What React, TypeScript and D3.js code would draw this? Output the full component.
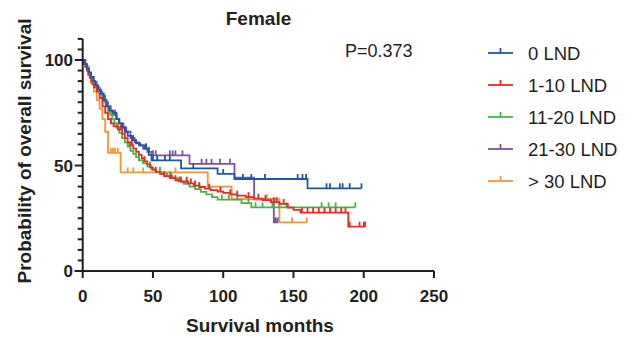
import * as d3 from 'd3';

// Kaplan-Meier step points [months, survival %]
const blueSteps: [number, number][] = [
  [0, 100], [1.5, 98], [3, 96], [4.5, 94], [6, 92], [7.5, 90], [9, 88], [11, 86], [13, 84], [15, 81],
  [17, 78], [19, 76], [21, 75], [24, 72], [26, 70], [28, 68], [30, 66], [32, 64], [35, 62], [38, 60.5],
  [41, 59.5], [44, 58], [47, 55], [49, 52.4], [70, 48.6], [96, 46], [108, 43.6], [160, 39.2],
];
const redSteps: [number, number][] = [
  [0, 100], [1, 98], [2, 96.5], [3, 95], [4, 93], [5, 91.5], [6, 90], [7, 88.5], [8, 87], [10, 85],
  [12, 82], [14, 78], [16, 75], [18, 72], [20, 70], [22, 68.5], [25, 67], [28, 65], [30, 63], [32, 61],
  [34, 59.5], [36, 58], [38, 56.5], [40, 55], [42, 53.5], [44, 52], [46, 50.5], [48, 49], [50, 48], [52, 47],
  [55, 46], [58, 45], [62, 44], [66, 43], [70, 42.3], [75, 41.5], [79, 40.5], [83, 39.8], [87, 39], [91, 38.3],
  [96, 37.6], [100, 37], [105, 36.3], [110, 35.7], [116, 35], [122, 34.3], [128, 33.6], [134, 32.6], [140, 31.8],
  [146, 30], [150, 29], [155, 27.7], [189, 21],
];
const greenSteps: [number, number][] = [
  [0, 100], [1.5, 98], [3, 96], [4.5, 94], [6, 92], [7.5, 90], [9, 88], [10.5, 86.5], [12, 85], [13.5, 83],
  [15, 80.5], [16.5, 78], [18, 76], [19.5, 74], [21, 72], [22.5, 70], [24, 68], [26, 65.5], [28, 63], [30, 61],
  [32, 59], [34, 57], [36, 55.5], [38, 54], [40, 52.5], [43, 51], [46, 49.5], [49, 48], [52, 47], [56, 46],
  [60, 45], [64, 44], [68, 42.5], [72, 41.3], [76, 40], [80, 38.8], [84, 37.5], [88, 36.3], [92, 35], [96, 33.8],
  [113, 32.2], [120, 30.2],
];
const purpleSteps: [number, number][] = [
  [0, 100], [2, 97], [4, 94], [6, 92], [8, 89.5], [10, 87], [12, 85], [14, 83], [16, 80], [18, 78],
  [20, 76], [22, 74], [24, 72], [26, 70], [28, 68], [31, 66], [34, 63], [37, 61], [40, 59.5], [43, 58],
  [46, 56.5], [49, 54.8], [76, 50.8], [108, 44.3], [122, 34], [136, 23],
];
const orangeSteps: [number, number][] = [
  [0, 100], [2, 97], [4, 93], [6, 89], [8, 85], [10, 81], [12, 77], [14, 72], [16, 66], [18, 56],
  [27, 46.7], [89, 40], [106, 34], [140, 23],
];

// censored observations (months)
const blueCensor = [24, 30, 36, 45, 50, 53, 58.5, 62, 78.7, 100, 114, 120, 129.7, 153, 156.4, 159, 173.5, 176, 183, 185, 190, 198.4];
const redCensor = [20, 27, 35, 44, 52, 58, 63, 66, 70, 74, 77, 80, 83, 90, 98, 105, 110, 118, 125, 130, 136, 138, 143, 156, 160, 164, 168, 172, 176, 180, 184, 187, 190, 197, 200, 201];
const greenCensor = [25, 33, 40, 48, 55, 62, 69, 74, 83, 99, 104, 110, 118, 123, 128, 135, 140, 145, 170, 175, 180, 194];
const purpleCensor = [23, 26, 29, 45, 47, 50, 52, 62, 64, 66, 71, 84.6, 88, 91.7, 97.7, 104.8, 136.5, 137.5, 139];
const orangeCensor = [20, 21.5, 23, 25, 32, 36, 43, 66, 131, 149, 159.5];

const groups = ['0 LND', '1-10 LND', '11-20 LND', '21-30 LND', '> 30 LND'];
const colors = ['#1f56a8', '#ee2a24', '#45b649', '#7b52a3', '#f7943c'];
const xTicks = [0, 50, 100, 150, 200, 250];
const yTicks = [0, 50, 100];

const series = [
  { name: groups[0], steps: blueSteps, censor: blueCensor, color: colors[0] },
  { name: groups[1], steps: redSteps, censor: redCensor, color: colors[1] },
  { name: groups[2], steps: greenSteps, censor: greenCensor, color: colors[2] },
  { name: groups[3], steps: purpleSteps, censor: purpleCensor, color: colors[3] },
  { name: groups[4], steps: orangeSteps, censor: orangeCensor, color: colors[4] },
];
// draw order (later = on top)
const drawOrder = [3, 4, 2, 1, 0];

const font = '"Liberation Sans", Arial, sans-serif';

function survivalAt(steps: [number, number][], t: number) {
  let s = steps[0][1];
  for (const [tt, ss] of steps) if (tt <= t) s = ss;
  return s;
}

export default function App() {
  const x = d3.scaleLinear().domain([0, 250]).range([82.7, 434]);
  const y = d3.scaleLinear().domain([0, 100]).range([271, 60]);
  const minorY = d3.range(0, 111, 5);

  const line = d3.line<[number, number]>()
    .x(d => x(d[0]))
    .y(d => y(d[1]))
    .curve(d3.curveStepAfter);

  return (
    <div style={{ position: 'absolute', left: 0, top: 0 }}>
      <svg width={634} height={338} style={{ display: 'block', background: '#fff' }} fontFamily={font}>
        {/* title */}
        <text x={258.5} y={25} textAnchor="middle" fontSize={19} fontWeight="bold" fill="#231f20">Female</text>
        <text x={345} y={57} fontSize={18} fill="#231f20">P=0.373</text>

        {/* curves */}
        {drawOrder.map(i => {
          const s = series[i];
          const end = d3.max(s.censor) as number;
          const pts: [number, number][] = [...s.steps, [end, s.steps[s.steps.length - 1][1]]];
          return (
            <g key={s.name}>
              <path d={line(pts) || ''} fill="none" stroke={s.color} strokeWidth={1.8} />
              {s.censor.map((c, j) => {
                const v = survivalAt(s.steps, c);
                return <line key={j} x1={x(c)} x2={x(c)} y1={y(v)} y2={y(v) - 5} stroke={s.color} strokeWidth={1.8} />;
              })}
            </g>
          );
        })}

        {/* y axis */}
        <g stroke="#231f20" strokeWidth={2}>
          <line x1={x(0)} x2={x(0)} y1={y(110)} y2={y(0) + 1} />
          {minorY.map(v => (
            <line key={v} x1={x(0) - (v % 50 === 0 ? 8 : 5)} x2={x(0)} y1={y(v)} y2={y(v)} />
          ))}
          <line x1={x(0) - 8} x2={x(250)} y1={y(0)} y2={y(0)} />
          {xTicks.map(v => (
            <line key={v} x1={x(v)} x2={x(v)} y1={y(0)} y2={y(0) + 7} />
          ))}
        </g>
        {yTicks.map(v => (
          <text key={v} x={73} y={y(v) + 6} textAnchor="end" fontSize={17} fontWeight="bold" fill="#231f20">{v}</text>
        ))}
        {xTicks.map(v => (
          <text key={v} x={x(v)} y={302} textAnchor="middle" fontSize={17} fontWeight="bold" fill="#231f20">{v}</text>
        ))}
        <text x={260} y={332} textAnchor="middle" fontSize={19} fontWeight="bold" fill="#231f20">Survival months</text>
        <text transform="translate(31,151) rotate(-90)" textAnchor="middle" fontSize={19} fontWeight="bold" fill="#231f20">
          Probability of overall survival
        </text>

        {/* legend */}
        {series.map((s, i) => {
          const cy = 53 + i * 32;
          return (
            <g key={s.name}>
              <line x1={488} x2={513} y1={cy} y2={cy} stroke={s.color} strokeWidth={1.8} />
              <line x1={500.5} x2={500.5} y1={cy} y2={cy - 5} stroke={s.color} strokeWidth={1.8} />
              <text x={528} y={cy + 6.5} fontSize={18.5} fill="#231f20">{s.name}</text>
            </g>
          );
        })}
      </svg>
    </div>
  );
}
